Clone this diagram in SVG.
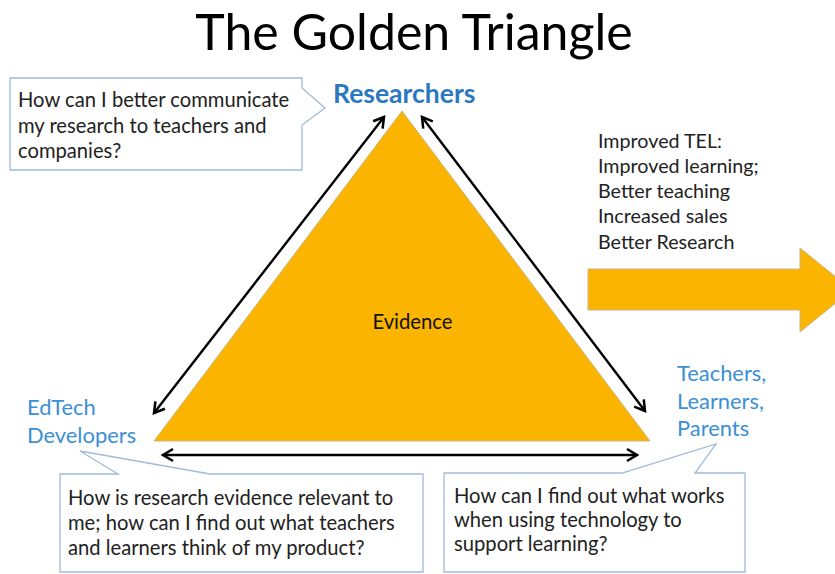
<svg xmlns="http://www.w3.org/2000/svg" width="835" height="574" viewBox="0 0 835 574">
<style>
text{font-family:Lato,"Open Sans","Liberation Sans",sans-serif;}
.title{font-size:50px;fill:#000;}
.body{font-size:20.2px;fill:#222;}
.out{font-size:19.7px;fill:#222;}
.role{font-size:21.9px;fill:#3a8fd6;}
.res{font-size:26.5px;font-weight:bold;fill:#2a78c2;}
.callout{fill:#fff;stroke:#9fbadb;stroke-width:1.3;}
.orange{fill:#fbb400;stroke:#c9b58a;stroke-width:1;}
.conn{stroke:#000;stroke-width:2.4;fill:none;marker-start:url(#ah);marker-end:url(#ah);}
</style>
<defs>
<marker id="ah" markerUnits="userSpaceOnUse" markerWidth="16" markerHeight="16" refX="12.5" refY="8" orient="auto-start-reverse" viewBox="0 0 16 16">
<path d="M2.5,2 L12.5,8 L2.5,14" fill="none" stroke="#000" stroke-width="2.5"/>
</marker>
</defs>
<rect width="835" height="574" fill="#fff"/>
<text class="title" x="414" y="50" text-anchor="middle">The Golden Triangle</text>

<g id="triangle">
<path class="orange" d="M402,111 L650,441 L154,441 Z"/>
<text x="412.5" y="329" text-anchor="middle" style="font-size:20.3px;fill:#111">Evidence</text>
</g>

<g id="researchers">
<text class="res" x="333" y="103">Researchers</text>
</g>
<g id="edtech">
<text class="role" x="27" y="415">EdTech</text>
<text class="role" x="27" y="443">Developers</text>
</g>
<g id="teachers">
<text class="role" x="677" y="381">Teachers,</text>
<text class="role" x="677" y="409">Learners,</text>
<text class="role" x="677" y="436">Parents</text>
</g>

<g id="callout-researchers">
<path class="callout" d="M10,78 H302 V88 L325,108 L302,125 V170 H10 Z"/>
<text class="body" x="18" y="107">How can I better communicate</text>
<text class="body" x="18" y="133">my research to teachers and</text>
<text class="body" x="18" y="158">companies?</text>
</g>

<g id="callout-edtech">
<path class="callout" d="M60,474 H118 L80,451 L210,474 H423 V572 H60 Z"/>
<text class="body" x="68" y="505">How is research evidence relevant to</text>
<text class="body" x="68" y="530">me; how can I find out what teachers</text>
<text class="body" x="68" y="555">and learners think of my product?</text>
</g>

<g id="callout-teachers">
<path class="callout" d="M444,473 H622 L716,444 L695,473 H745 V572 H444 Z"/>
<text class="body" x="454" y="503">How can I find out what works</text>
<text class="body" x="454" y="527">when using technology to</text>
<text class="body" x="454" y="551">support learning?</text>
</g>

<g id="outcomes">
<text class="out" x="598" y="148">Improved TEL:</text>
<text class="out" x="598" y="173">Improved learning;</text>
<text class="out" x="598" y="198">Better teaching</text>
<text class="out" x="598" y="223">Increased sales</text>
<text class="out" x="598" y="249">Better Research</text>
<path class="orange" d="M588,269 H800 V248 L852,290 L800,332 V310 H588 Z"/>
</g>

<g id="connectors">
<line class="conn" x1="384" y1="117" x2="154" y2="413"/>
<line class="conn" x1="422" y1="117" x2="645" y2="411"/>
<line class="conn" x1="163" y1="455" x2="637" y2="455"/>
</g>
</svg>
